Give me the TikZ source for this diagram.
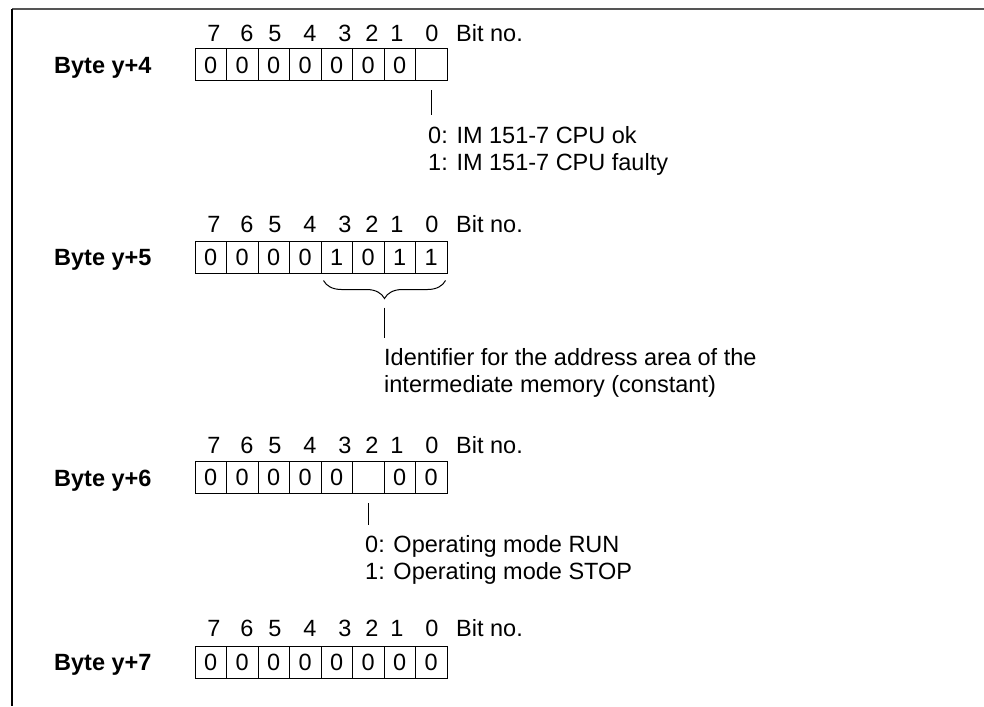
\documentclass[tikz,border=0pt]{standalone}
\usepackage{fontspec}
\setmainfont{Liberation Sans}
\usepackage{xcolor}
\usetikzlibrary{decorations.pathreplacing}
\definecolor{framegrey}{RGB}{85,85,85}

\begin{document}
\begin{tikzpicture}[x=1pt, y=-1pt,
  every node/.style={font=\fontsize{23.5}{27}\selectfont, inner sep=0pt},
  cell/.style={draw, line width=1pt, minimum width=31.5pt, minimum height=32pt},
  bitno/.style={anchor=base},
  bytelbl/.style={font=\fontsize{23.5}{27}\selectfont\bfseries, anchor=base west},
  note/.style={anchor=base west},
  conn/.style={line width=1pt},
  brc/.style={decorate, decoration={brace, mirror, amplitude=18pt}, line width=1pt},
]
\useasboundingbox (0,0) rectangle (984,706);

% frame
\draw[framegrey, line width=2pt] (12,9) -- (984,9);
\draw[line width=1.5pt] (12,9) -- (12,706);

% Byte y+4
\node[bytelbl] (lbl4) at (54,73.5) {Byte y+4};
\foreach \b/\xx in {7/214,6/247,5/275,4/310,3/345,2/372,1/397,0/432}
  \node[bitno] (n4b\b) at (\xx,41.5) {\b};
\node[note] (bit4) at (456,41.5) {Bit no.};
\foreach \b/\v in {7/0,6/0,5/0,4/0,3/0,2/0,1/0,0/{}}
  \node[cell] (y4b\b) at ({210.75+31.5*(7-\b)},65) {\v};
\node[note] (cpuok)    at (428,143.5) {0: IM 151-7 CPU ok};
\node[note] (cpufault) at (428,170.5) {1: IM 151-7 CPU faulty};
\draw[conn] ([yshift=-9pt]y4b0.south) -- ++(0,25);

% Byte y+5
\node[bytelbl] (lbl5) at (54,265.5) {Byte y+5};
\foreach \b/\xx in {7/214,6/247,5/275,4/310,3/345,2/372,1/397,0/432}
  \node[bitno] (n5b\b) at (\xx,232.5) {\b};
\node[note] (bit5) at (456,232.5) {Bit no.};
\foreach \b/\v in {7/0,6/0,5/0,4/0,3/1,2/0,1/1,0/1}
  \node[cell] (y5b\b) at ({210.75+31.5*(7-\b)},257) {\v};
\draw[brc] ([xshift=3pt,yshift=-7pt]y5b3.south west) -- coordinate[midway] (brmid)
           ([xshift=-2pt,yshift=-7pt]y5b0.south east);
\draw[conn] ([yshift=-27pt]brmid) -- ++(0,30);
\node[note] (ident) at (384,365.5) {Identifier for the address area of the};
\node[note] (inter) at (384,392.5) {intermediate memory (constant)};

% Byte y+6
\node[bytelbl] (lbl6) at (54,486) {Byte y+6};
\foreach \b/\xx in {7/214,6/247,5/275,4/310,3/345,2/372,1/397,0/432}
  \node[bitno] (n6b\b) at (\xx,453.5) {\b};
\node[note] (bit6) at (456,453.5) {Bit no.};
\foreach \b/\v in {7/0,6/0,5/0,4/0,3/0,2/{},1/0,0/0}
  \node[cell] (y6b\b) at ({210.75+31.5*(7-\b)},477.5) {\v};
\draw[conn] ([yshift=-9pt]y6b2.south) -- ++(0,22);
\node[note] (run)  at (365,552.5) {0: Operating mode RUN};
\node[note] (stop) at (365,579.5) {1: Operating mode STOP};

% Byte y+7
\node[bytelbl] (lbl7) at (54,670.5) {Byte y+7};
\foreach \b/\xx in {7/214,6/247,5/275,4/310,3/345,2/372,1/397,0/432}
  \node[bitno] (n7b\b) at (\xx,636.5) {\b};
\node[note] (bit7) at (456,636.5) {Bit no.};
\foreach \b/\v in {7/0,6/0,5/0,4/0,3/0,2/0,1/0,0/0}
  \node[cell] (y7b\b) at ({210.75+31.5*(7-\b)},662) {\v};

\end{tikzpicture}
\end{document}
